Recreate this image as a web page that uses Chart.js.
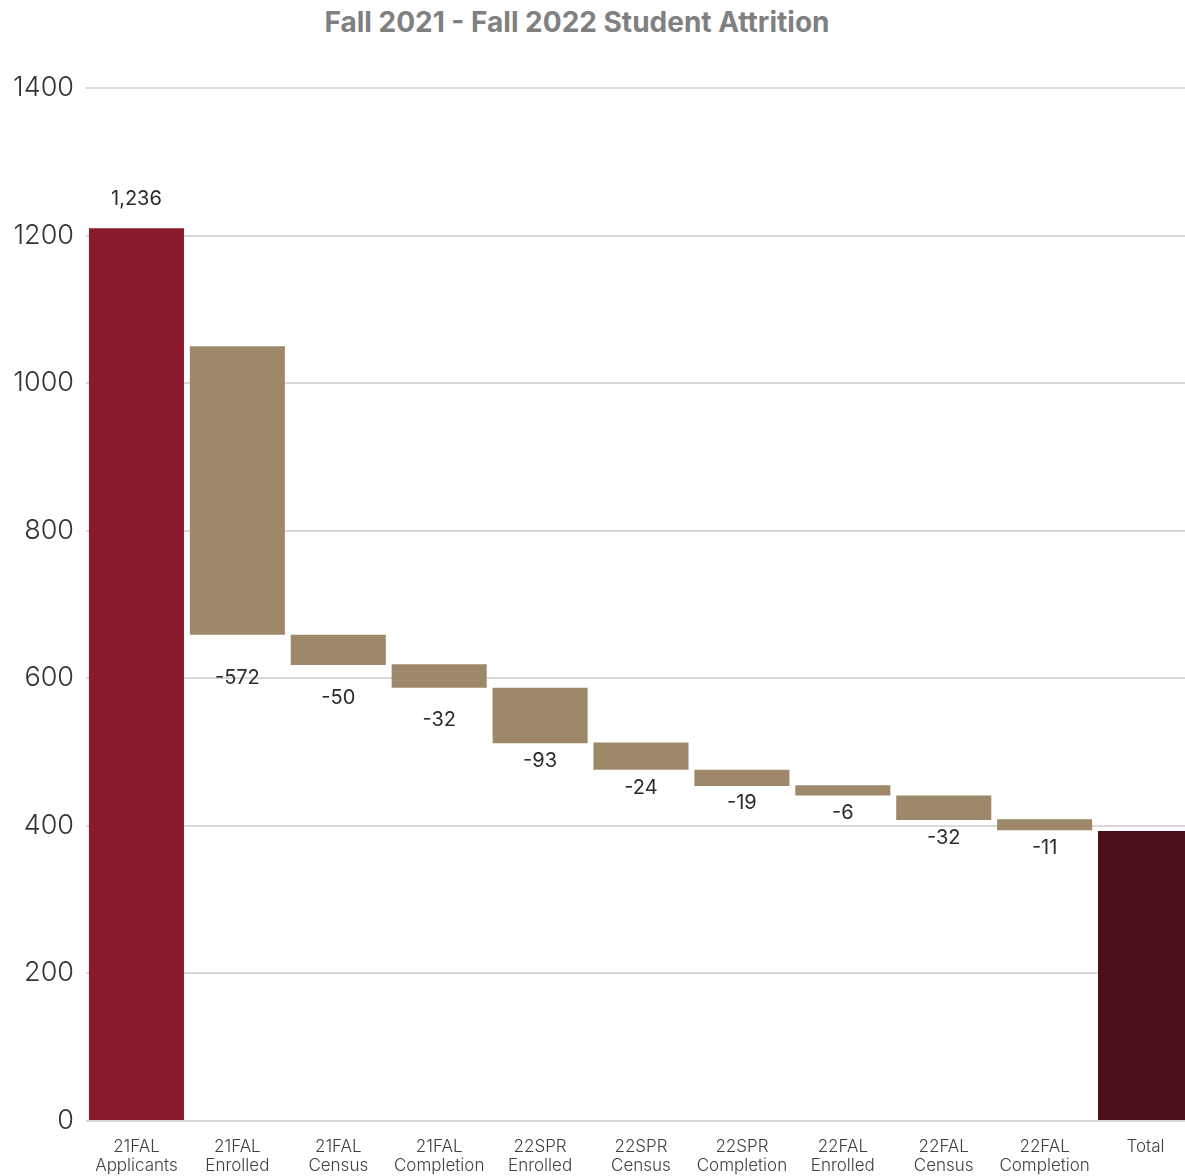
<!DOCTYPE html>
<html>
<head>
<meta charset="utf-8">
<title>Fall 2021 - Fall 2022 Student Attrition</title>
<script src="https://cdn.jsdelivr.net/npm/chart.js@4.4.1/dist/chart.umd.min.js"></script>
<style>
    html, body {
        margin: 0;
        padding: 0;
        background: #ffffff;
        overflow: hidden;
        width: 1185px;
        height: 1176px;
    }
    #titulo {
        width: 1154px;
        height: 44px;
        line-height: 44px;
        text-align: center;
        font-family: Inter, 'Noto Sans', sans-serif;
        font-weight: 700;
        font-size: 28px;
        color: #808080;
    }
    #contenedor {
        position: relative;
        width: 1196px;
        height: 1147px;
    }
</style>
</head>
<body>
<div id="titulo">Fall 2021 - Fall 2022 Student Attrition</div>
<div id="contenedor">
    <canvas id="graficoAttrition" width="1196" height="1147"></canvas>
</div>
<script>
// Categories (two-line tick labels)
const categorias = [
    ['21FAL', 'Applicants'],
    ['21FAL', 'Enrolled'],
    ['21FAL', 'Census'],
    ['21FAL', 'Completion'],
    ['22SPR', 'Enrolled'],
    ['22SPR', 'Census'],
    ['22SPR', 'Completion'],
    ['22FAL', 'Enrolled'],
    ['22FAL', 'Census'],
    ['22FAL', 'Completion'],
    ['Total']
];

// Floating bar ranges as drawn in the picture [low, high]
const barrasDesde = [0, 659, 618, 587, 512, 476, 454, 441, 408, 394, 0];
const barrasHasta = [1210, 1050, 659, 619, 587, 513, 476, 455, 441, 409, 393];

// Value labels and the value where each label sits
const etiquetas = ['1,236', '-572', '-50', '-32', '-93', '-24', '-19', '-6', '-32', '-11', ''];
const etiquetaEn = [1250, 600, 573, 544, 488, 451, 431, 417, 384, 370, null];

// Y axis ticks
const yMin = 0;
const yMax = 1400;
const yPaso = 200;

const colorInicio = '#891a2b';
const colorCambio = '#9d896a';
const colorTotal = '#4a0f1b';

document.addEventListener('DOMContentLoaded', function() {
    initializeChart();
});

function getBarColors() {
    return categorias.map((c, i) => {
        if (i === 0) return colorInicio;
        if (i === categorias.length - 1) return colorTotal;
        return colorCambio;
    });
}

// Plugin that writes the value labels
const etiquetasPlugin = {
    id: 'etiquetasPlugin',
    afterDatasetsDraw(chart) {
        const ctx = chart.ctx;
        const meta = chart.getDatasetMeta(0);
        const y = chart.scales.y;
        ctx.save();
        ctx.font = '400 20px Inter, "Noto Sans", sans-serif';
        ctx.fillStyle = '#2b2b2b';
        ctx.textAlign = 'center';
        ctx.textBaseline = 'middle';
        meta.data.forEach((bar, i) => {
            if (!etiquetas[i] || etiquetaEn[i] === null) return;
            ctx.fillText(etiquetas[i], bar.x, y.getPixelForValue(etiquetaEn[i]));
        });
        ctx.restore();
    }
};

function initializeChart() {
    const ctx = document.getElementById('graficoAttrition');

    window.attritionChart = new Chart(ctx, {
        type: 'bar',
        data: {
            labels: categorias,
            datasets: [{
                data: barrasDesde.map((d, i) => [d, barrasHasta[i]]),
                backgroundColor: getBarColors(),
                borderWidth: 0,
                barPercentage: 0.942,
                categoryPercentage: 1.0
            }]
        },
        options: {
            responsive: false,
            animation: false,
            layout: {
                padding: { top: 44, right: 0, bottom: 0, left: 0 }
            },
            plugins: {
                legend: { display: false },
                title: { display: false },
                tooltip: { enabled: false }
            },
            scales: {
                x: {
                    grid: { display: false, drawTicks: false },
                    border: { display: false },
                    ticks: {
                        color: '#404040',
                        font: { family: 'Inter, "Noto Sans", sans-serif', size: 17, weight: 300, lineHeight: 1.12 },
                        padding: 16,
                        maxRotation: 0,
                        autoSkip: false
                    }
                },
                y: {
                    min: yMin,
                    max: yMax,
                    grid: { color: '#d9d9d9', lineWidth: 2, drawTicks: false },
                    border: { display: false },
                    ticks: {
                        stepSize: yPaso,
                        color: '#333333',
                        font: { family: 'Inter, "Noto Sans", sans-serif', size: 27, weight: 300 },
                        padding: 12,
                        callback: function(value) {
                            return String(value);
                        }
                    },
                    afterFit: function(scale) {
                        scale.width = 86;
                    }
                }
            }
        },
        plugins: [etiquetasPlugin]
    });
}
</script>
</body>
</html>
